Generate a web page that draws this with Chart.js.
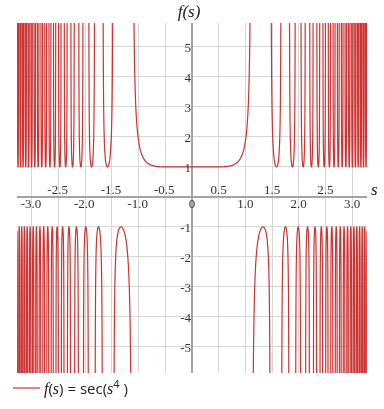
<!DOCTYPE html>
<html><head><meta charset="utf-8">
<script src="https://cdn.jsdelivr.net/npm/chart.js@4"></script>
<style>html,body{margin:0;padding:0;background:#fff}#wrap{width:384px;height:409px;position:relative}</style>
</head><body><div id="wrap"><canvas id="c" width="384" height="409"></canvas></div>
<script>
// ---- data ----
const sDomain = [-3.28, 3.28];
const yDomain = [-5.87, 5.8];
const xGrid = [-3, -2.5, -2, -1.5, -1, -0.5, 0, 0.5, 1, 1.5, 2, 2.5, 3];
const xTicksBelow = [-3, -2, -1, 0, 1, 2, 3];
const xLabelsBelow = ['-3.0', '-2.0', '-1.0', '0', '1.0', '2.0', '3.0'];
const xTicksAbove = [-2.5, -1.5, -0.5, 0.5, 1.5, 2.5];
const xLabelsAbove = ['-2.5', '-1.5', '-0.5', '0.5', '1.5', '2.5'];
const yGrid = [-5, -4, -3, -2, -1, 0, 1, 2, 3, 4, 5];
const yTicks = [-5, -4, -3, -2, -1, 1, 2, 3, 4, 5];
const sampleCount = 40000;
const curveColor = '#cc3333';

// f(s) = sec(s^4), the function named in the chart's legend
const points = [];
let prevCos = null;
for (let i = 0; i <= sampleCount; i++) {
  const s = sDomain[0] + (sDomain[1] - sDomain[0]) * i / sampleCount;
  const c = Math.cos(Math.pow(s, 4));
  if (prevCos !== null && (c > 0) !== (prevCos > 0)) {
    points.push({x: s, y: null});
  }
  let y = 1 / c;
  if (y > 60) y = 60;
  if (y < -60) y = -60;
  points.push({x: s, y: y});
  prevCos = c;
}

const overlay = {
  id: 'overlay',
  beforeDatasetsDraw(chart) {
    const ctx = chart.ctx, a = chart.chartArea;
    const xs = chart.scales.x, ys = chart.scales.y;
    const x0 = xs.getPixelForValue(0), y0 = ys.getPixelForValue(0);
    ctx.save();
    ctx.strokeStyle = '#a3a3a3';
    ctx.lineWidth = 2;
    ctx.beginPath();
    ctx.moveTo(a.left, y0); ctx.lineTo(a.right, y0);
    ctx.moveTo(x0, a.top); ctx.lineTo(x0, a.bottom);
    ctx.stroke();
    ctx.restore();
  },
  afterDatasetsDraw(chart) {
    const ctx = chart.ctx, a = chart.chartArea;
    const xs = chart.scales.x, ys = chart.scales.y;
    const x0 = xs.getPixelForValue(0), y0 = ys.getPixelForValue(0);
    ctx.save();
    ctx.fillStyle = '#333';
    ctx.font = '13px "Liberation Serif", serif';
    ctx.textAlign = 'center';
    ctx.textBaseline = 'alphabetic';
    xTicksBelow.forEach((v, i) => {
      ctx.fillText(xLabelsBelow[i], xs.getPixelForValue(v) + (v < 0 ? -1 : 0), y0 + 11);
    });
    xTicksAbove.forEach((v, i) => {
      ctx.fillText(xLabelsAbove[i], xs.getPixelForValue(v) + (v < 0 ? -1 : 0), y0 - 3);
    });
    ctx.textAlign = 'right';
    ctx.textBaseline = 'middle';
    yTicks.forEach(v => {
      ctx.fillText(String(v), x0 - 1, ys.getPixelForValue(v) + 2);
    });
    // axis titles
    ctx.fillStyle = '#222';
    ctx.font = 'italic 17px "Liberation Serif", serif';
    ctx.textAlign = 'center';
    ctx.textBaseline = 'alphabetic';
    ctx.fillText('f(s)', x0 - 3, a.top - 6);
    ctx.textAlign = 'left';
    ctx.fillText('s', a.right + 4, y0 - 2);
    // legend
    const ly = 388;
    ctx.strokeStyle = curveColor;
    ctx.lineWidth = 1.2;
    ctx.beginPath(); ctx.moveTo(13, ly); ctx.lineTo(40, ly); ctx.stroke();
    let x = 44;
    const base = ly + 6;
    const parts = [
      ['italic 16px "Liberation Serif", serif', 'f', 0],
      ['15px "Open Sans", sans-serif', '(', 0],
      ['italic 16px "Liberation Serif", serif', 's', 0],
      ['15px "Open Sans", sans-serif', ')', 0],
      ['15px "Open Sans", sans-serif', ' = sec(', 0],
      ['italic 16px "Liberation Serif", serif', 's', 0],
      ['11px "Open Sans", sans-serif', '4', -6],
      ['15px "Open Sans", sans-serif', ' )', 0]
    ];
    ctx.fillStyle = '#222';
    parts.forEach(p => {
      ctx.font = p[0];
      ctx.fillText(p[1], x, base + p[2]);
      x += ctx.measureText(p[1]).width;
    });
    ctx.restore();
  }
};

new Chart(document.getElementById('c'), {
  type: 'line',
  data: { datasets: [{
    data: points,
    borderColor: curveColor,
    borderWidth: 1.2,
    borderDash: [100000, 0],
    pointRadius: 0,
    spanGaps: false,
    tension: 0,
    fill: false
  }]},
  options: {
    responsive: false,
    animation: false,
    parsing: false,
    normalized: true,
    events: [],
    layout: { padding: { left: 17, right: 17, top: 23, bottom: 36 } },
    plugins: { legend: { display: false }, tooltip: { enabled: false } },
    scales: {
      x: {
        type: 'linear', min: sDomain[0], max: sDomain[1],
        afterBuildTicks: s => { s.ticks = xGrid.map(v => ({value: v})); },
        ticks: { display: false },
        grid: { color: '#d6d6d6', lineWidth: 1, drawTicks: false },
        border: { display: false }
      },
      y: {
        type: 'linear', min: yDomain[0], max: yDomain[1],
        afterBuildTicks: s => { s.ticks = yGrid.map(v => ({value: v})); },
        ticks: { display: false },
        grid: { color: '#d6d6d6', lineWidth: 1, drawTicks: false },
        border: { display: false }
      }
    }
  },
  plugins: [overlay]
});
</script></body></html>
